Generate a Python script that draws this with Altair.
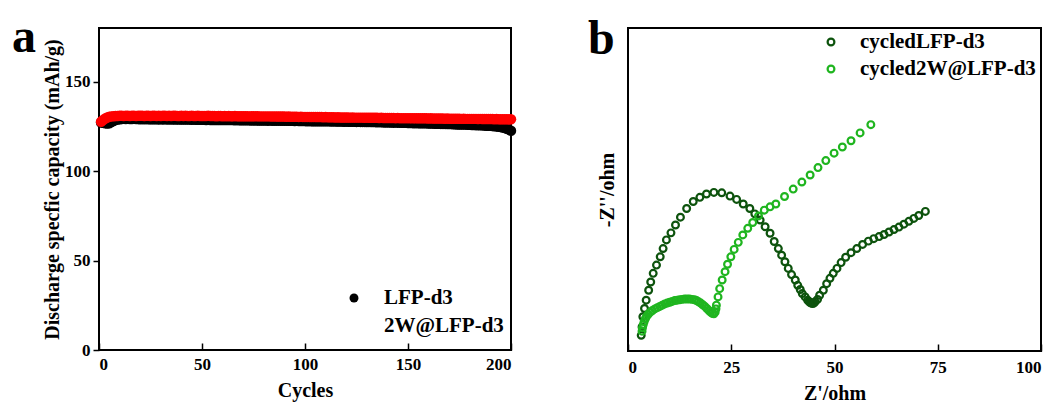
import altair as alt
import pandas as pd

FONT = "Liberation Serif"

# ---------------- panel a data ----------------
cycles = list(range(1, 201))
lfp_d3 = [
    127.2, 127.0, 126.8, 126.6, 126.8, 127.4, 128.0, 128.5, 128.8, 129.0,
    129.1, 129.2, 129.1, 129.2, 129.1, 129.1, 129.2, 129.1, 129.1, 129.0,
    129.1, 129.0, 129.1, 129.0, 129.0, 129.0, 129.0, 129.0, 128.9, 129.0,
    128.9, 129.0, 128.9, 128.9, 128.9, 128.9, 128.8, 128.9, 128.8, 128.8,
    128.8, 128.8, 128.8, 128.8, 128.7, 128.8, 128.7, 128.7, 128.7, 128.7,
    128.7, 128.6, 128.7, 128.6, 128.6, 128.6, 128.6, 128.6, 128.5, 128.6,
    128.5, 128.5, 128.5, 128.5, 128.5, 128.4, 128.5, 128.4, 128.4, 128.4,
    128.4, 128.4, 128.4, 128.3, 128.4, 128.3, 128.3, 128.3, 128.3, 128.3,
    128.3, 128.2, 128.3, 128.2, 128.2, 128.2, 128.2, 128.2, 128.1, 128.2,
    128.1, 128.1, 128.1, 128.1, 128.0, 128.1, 128.0, 128.0, 128.0, 128.0,
    127.9, 128.0, 127.9, 127.9, 127.9, 127.9, 127.8, 127.9, 127.8, 127.8,
    127.8, 127.8, 127.7, 127.8, 127.7, 127.7, 127.7, 127.7, 127.6, 127.7,
    127.6, 127.6, 127.6, 127.6, 127.5, 127.6, 127.5, 127.5, 127.5, 127.4,
    127.5, 127.4, 127.4, 127.4, 127.3, 127.4, 127.3, 127.3, 127.2, 127.3,
    127.2, 127.2, 127.1, 127.2, 127.1, 127.1, 127.0, 127.0, 127.0, 126.9,
    126.9, 126.9, 126.8, 126.9, 126.8, 126.8, 126.7, 126.7, 126.7, 126.6,
    126.6, 126.6, 126.5, 126.5, 126.5, 126.4, 126.4, 126.4, 126.3, 126.3,
    126.3, 126.2, 126.2, 126.1, 126.1, 126.1, 126.0, 126.0, 125.9, 125.9,
    125.8, 125.8, 125.7, 125.7, 125.6, 125.6, 125.5, 125.4, 125.4, 125.3,
    125.2, 125.1, 125.0, 124.8, 124.6, 124.4, 124.1, 123.7, 123.2, 122.6,
]
w2_lfp_d3 = [
    127.6, 128.6, 129.4, 130.0, 130.4, 130.6, 130.7, 130.8, 130.8, 130.9,
    130.9, 130.8, 130.9, 130.9, 130.8, 130.9, 130.9, 130.8, 130.9, 130.9,
    130.9, 130.8, 130.9, 130.9, 130.8, 130.9, 130.9, 130.8, 130.9, 130.8,
    130.9, 130.9, 130.8, 130.9, 130.8, 130.9, 130.9, 130.8, 130.8, 130.9,
    130.8, 130.9, 130.8, 130.8, 130.9, 130.8, 130.8, 130.9, 130.8, 130.8,
    130.8, 130.8, 130.9, 130.8, 130.8, 130.8, 130.7, 130.8, 130.8, 130.7,
    130.8, 130.7, 130.8, 130.7, 130.7, 130.8, 130.7, 130.7, 130.7, 130.7,
    130.7, 130.7, 130.6, 130.7, 130.7, 130.6, 130.7, 130.6, 130.6, 130.6,
    130.6, 130.6, 130.6, 130.5, 130.6, 130.5, 130.5, 130.5, 130.5, 130.5,
    130.4, 130.5, 130.4, 130.4, 130.4, 130.4, 130.3, 130.4, 130.3, 130.3,
    130.3, 130.3, 130.2, 130.3, 130.2, 130.2, 130.2, 130.2, 130.1, 130.2,
    130.1, 130.1, 130.1, 130.1, 130.0, 130.1, 130.0, 130.0, 130.0, 130.0,
    130.0, 129.9, 130.0, 129.9, 129.9, 129.9, 129.9, 129.9, 129.8, 129.9,
    129.8, 129.8, 129.8, 129.8, 129.8, 129.7, 129.8, 129.7, 129.7, 129.7,
    129.7, 129.7, 129.7, 129.6, 129.7, 129.6, 129.6, 129.6, 129.6, 129.6,
    129.6, 129.5, 129.6, 129.5, 129.5, 129.5, 129.5, 129.5, 129.5, 129.4,
    129.5, 129.4, 129.4, 129.4, 129.4, 129.4, 129.4, 129.3, 129.4, 129.3,
    129.3, 129.3, 129.3, 129.3, 129.3, 129.2, 129.3, 129.2, 129.2, 129.2,
    129.2, 129.2, 129.2, 129.1, 129.2, 129.1, 129.1, 129.1, 129.1, 129.1,
    129.1, 129.0, 129.1, 129.0, 129.0, 129.0, 129.0, 129.0, 128.9, 129.0,
]
a_series = ["LFP-d3", "2W@LFP-d3"]
a_colors = ["#000000", "#ff0000"]
a_x_ticks = [0, 50, 100, 150, 200]
a_y_ticks = [0, 50, 100, 150]

# ---------------- panel b data ----------------
eis_lfp_x = [3.2, 3.4, 3.6, 4.0, 4.4, 5.0, 5.5, 6.1, 6.9, 7.8, 8.5, 9.3, 10.4, 11.5,
             12.7, 14.2, 15.8, 17.4, 19.0, 20.8, 22.7, 24.7, 26.3, 27.9, 29.5,
             30.7, 32.0, 33.2, 34.4, 35.4, 36.4, 37.2, 38.0, 38.8, 39.6, 40.5,
             41.1, 41.7, 42.2, 42.9, 43.5, 43.8, 44.1, 44.4, 44.7, 45.0, 45.3,
             45.9, 46.4, 47.3, 48.1, 48.9, 49.7, 50.6, 51.6, 52.7, 54.0, 55.4,
             56.8, 58.2, 59.5, 60.8, 62.0, 63.2, 64.4, 65.6, 66.8, 68.0, 69.2,
             70.4, 72.0]
eis_lfp_y = [3.8, 5.8, 8.3, 10.3, 12.3, 14.7, 16.7, 18.8, 20.8, 22.8, 24.8, 26.9,
             28.6, 30.5, 32.4, 34.5, 36.2, 37.2, 38.0, 38.4, 38.3, 37.5, 36.7,
             35.6, 34.5, 33.2, 31.7, 30.1, 28.5, 26.5, 24.8, 23.2, 21.6, 20.0,
             18.5, 17.2, 15.9, 14.9, 13.9, 13.1, 12.3, 12.0, 11.7, 11.6, 11.5,
             11.6, 11.9, 12.5, 13.5, 14.7, 16.3, 17.6, 18.8, 20.0, 21.4, 22.7,
             23.8, 24.8, 25.8, 26.6, 27.2, 27.7, 28.2, 28.8, 29.4, 30.0, 30.7,
             31.4, 32.1, 32.8, 33.8]
eis_2w_x = [3.4, 3.5, 3.7, 3.9, 4.2, 4.5, 4.9, 5.4, 5.9, 6.5, 7.1, 7.7, 8.3, 8.9,
            9.5, 10.1, 10.7, 11.3, 11.9, 12.5, 13.1, 13.7, 14.3, 14.9, 15.5,
            16.1, 16.6, 17.1, 17.6, 18.1, 18.6, 19.1, 19.6, 20.0, 20.4, 20.8,
            21.1, 21.3, 21.4, 21.8, 22.2, 22.8, 23.5, 24.1, 24.9, 25.7, 26.7,
            27.8, 29.0, 30.2, 31.6, 33.0, 34.4, 35.8, 37.9, 40.0, 42.1, 44.1,
            46.0, 47.9, 49.9, 51.9, 54.0, 56.2, 58.8]
eis_2w_y = [4.8, 5.6, 6.4, 7.1, 7.8, 8.4, 8.9, 9.4, 9.8, 10.2, 10.5, 10.8, 11.1,
            11.4, 11.6, 11.8, 12.0, 12.2, 12.3, 12.4, 12.5, 12.6, 12.6, 12.6,
            12.5, 12.4, 12.2, 11.9, 11.6, 11.2, 10.8, 10.3, 9.8, 9.4, 9.1, 9.0,
            9.4, 10.2, 11.1, 13.1, 15.1, 17.2, 19.2, 21.0, 22.8, 24.6, 26.3,
            28.1, 29.7, 31.1, 32.7, 34.1, 34.9, 35.6, 37.4, 39.2, 40.9, 42.6,
            44.4, 46.1, 47.9, 49.4, 50.9, 52.8, 54.8]
b_series = ["cycledLFP-d3", "cycled2W@LFP-d3"]
b_colors = ["#0d530d", "#1fb51f"]
b_x_ticks = [0, 25, 50, 75, 100]

LABEL_SIZE = 17
TITLE_SIZE = 20
A_SIZE = 110
B_SIZE = 46
B_STROKE = 2.2

# ---------------- panel a ----------------
df_a = pd.DataFrame({
    "cycle": cycles + cycles,
    "cap": lfp_d3 + w2_lfp_d3,
    "series": [a_series[0]] * len(cycles) + [a_series[1]] * len(cycles),
})

xa = alt.X("cycle:Q", scale=alt.Scale(domain=[0, 200], nice=False, zero=False),
           axis=alt.Axis(values=a_x_ticks, title="Cycles", offset=-7, tickSize=7,
                         domain=False, grid=False, labelPadding=6, titlePadding=8,
                         format="d"))
ya = alt.Y("cap:Q", scale=alt.Scale(domain=[0, 180], nice=False),
           axis=alt.Axis(values=a_y_ticks, title="Discharge specfic capacity (mAh/g)",
                         tickSize=6, labelPadding=3, titlePadding=2, domain=False,
                         grid=False, format="d"))

pts_a = alt.Chart(df_a).mark_circle(size=A_SIZE, opacity=1).encode(
    x=xa, y=ya,
    color=alt.Color("series:N", scale=alt.Scale(domain=a_series, range=a_colors), legend=None),
    order=alt.Order("ord:Q"),
).transform_calculate(ord=f"datum.series == '{a_series[0]}' ? 0 : 1")

leg_a_dot = alt.Chart(pd.DataFrame({"s": [a_series[0]]})).mark_circle(
    size=80, opacity=1, color="#000000").encode(x=alt.value(255), y=alt.value(270))
leg_a_t1 = alt.Chart(pd.DataFrame({"s": [a_series[0]]})).mark_text(
    font=FONT, fontSize=21, fontWeight="bold", align="left", baseline="middle",
    color="black").encode(x=alt.value(285), y=alt.value(270), text="s:N")
leg_a_t2 = alt.Chart(pd.DataFrame({"s": [a_series[1]]})).mark_text(
    font=FONT, fontSize=21, fontWeight="bold", align="left", baseline="middle",
    color="black").encode(x=alt.value(285), y=alt.value(298), text="s:N")
lab_a = alt.Chart(pd.DataFrame({"s": ["a"]})).mark_text(
    font=FONT, fontSize=48, fontWeight="bold", align="left", baseline="alphabetic",
    color="black").encode(x=alt.value(-87), y=alt.value(24), text="s:N")

panel_a = alt.layer(pts_a, leg_a_dot, leg_a_t1, leg_a_t2, lab_a).properties(
    width=412, height=322)

# ---------------- panel b ----------------
df_b = pd.DataFrame({
    "zre": eis_lfp_x + eis_2w_x,
    "zim": eis_lfp_y + eis_2w_y,
    "series": [b_series[0]] * len(eis_lfp_x) + [b_series[1]] * len(eis_2w_x),
})

xb = alt.X("zre:Q", scale=alt.Scale(domain=[0, 100], nice=False, zero=False),
           axis=alt.Axis(values=b_x_ticks, title="Z'/ohm", offset=-7, tickSize=7,
                         domain=False, grid=False, labelPadding=8, titlePadding=8,
                         format="d"))
yb = alt.Y("zim:Q", scale=alt.Scale(domain=[0, 78.2], nice=False),
           axis=alt.Axis(title="-Z''/ohm", ticks=False, labels=False, tickSize=0,
                         domain=False, grid=False, titlePadding=11))

pts_b = alt.Chart(df_b).mark_point(shape="circle", filled=False, size=B_SIZE,
                                   strokeWidth=B_STROKE, opacity=1).encode(
    x=xb, y=yb,
    stroke=alt.Stroke("series:N", scale=alt.Scale(domain=b_series, range=b_colors), legend=None),
)

leg_b_sym = alt.Chart(pd.DataFrame({"s": b_series, "yy": [14, 41]})).mark_point(
    shape="circle", filled=False, size=B_SIZE, strokeWidth=B_STROKE, opacity=1).encode(
    x=alt.value(203), y=alt.Y("yy:Q", scale=None),
    stroke=alt.Stroke("s:N", scale=alt.Scale(domain=b_series, range=b_colors), legend=None))
leg_b_t1 = alt.Chart(pd.DataFrame({"s": [b_series[0]]})).mark_text(
    font=FONT, fontSize=21, fontWeight="bold", align="left", baseline="middle",
    color="black").encode(x=alt.value(232), y=alt.value(14), text="s:N")
leg_b_t2 = alt.Chart(pd.DataFrame({"s": [b_series[1]]})).mark_text(
    font=FONT, fontSize=21, fontWeight="bold", align="left", baseline="middle",
    color="black").encode(x=alt.value(232), y=alt.value(41), text="s:N")
lab_b = alt.Chart(pd.DataFrame({"s": ["b"]})).mark_text(
    font=FONT, fontSize=48, fontWeight="bold", align="left", baseline="alphabetic",
    color="black").encode(x=alt.value(-40), y=alt.value(26), text="s:N")

panel_b = alt.layer(pts_b, leg_b_sym, leg_b_t1, leg_b_t2, lab_b).properties(
    width=413, height=323)

chart = alt.hconcat(panel_a, panel_b, spacing=69).properties(
    padding={"left": 3, "top": 5, "right": 0, "bottom": 0},
    background="white",
).configure_view(
    stroke="black", strokeWidth=2
).configure_axis(
    labelFont=FONT, titleFont=FONT, labelFontWeight="bold", titleFontWeight="bold",
    labelFontSize=LABEL_SIZE, titleFontSize=TITLE_SIZE, labelColor="black",
    titleColor="black", tickColor="black", tickWidth=1.5,
)

chart.save("out.html", embed_options={"renderer": "svg", "actions": False})
